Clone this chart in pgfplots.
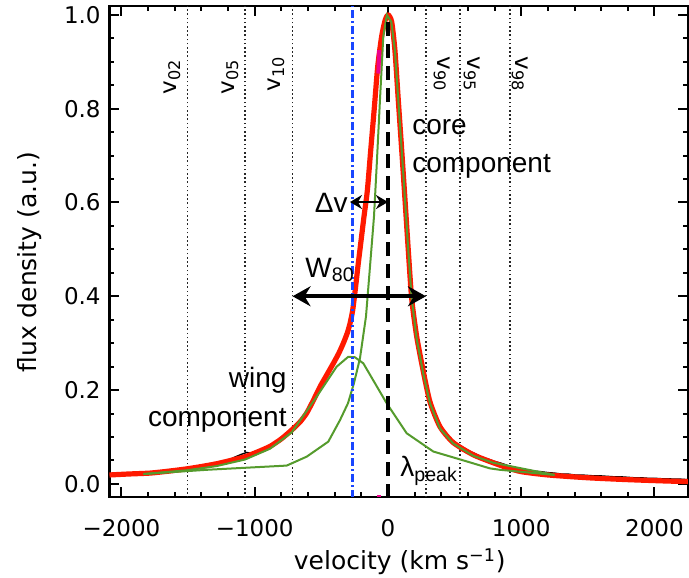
\documentclass[border=0pt]{standalone}
\usepackage{pgfplots}
\pgfplotsset{compat=1.18}
\usepackage{fontspec}
\setmainfont{DejaVu Sans}
\newfontfamily\annfont{Liberation Sans}
\usetikzlibrary{arrows.meta}
\definecolor{fitred}{RGB}{255,25,0}
\definecolor{compgreen}{RGB}{85,155,45}
\definecolor{vblue}{RGB}{25,70,255}
\begin{document}
\begin{tikzpicture}
\begin{axis}[
  scale only axis, width=289.25pt, height=245.5pt,
  xmin=-2090, xmax=2250, ymin=-0.0277, ymax=1.019,
  axis line style={line width=1.3pt},
  tick align=inside,
  major tick length=5pt, minor tick length=2.5pt,
  tick style={black, line width=1pt},
  xtick={-2000,-1000,0,1000,2000},
  xticklabels={−2000,−1000,0,1000,2000},
  minor x tick num=4,
  ytick={0,0.2,0.4,0.6,0.8,1.0},
  minor y tick num=3,
  /pgf/number format/assume math mode=true,
  yticklabel style={/pgf/number format/fixed, /pgf/number format/fixed zerofill, /pgf/number format/precision=1, font=\fontsize{11.5}{13}\selectfont, xshift=-0.9pt},
  xticklabel style={font=\fontsize{11.5}{13}\selectfont, yshift=-7.7pt},
  xlabel={velocity (km s\textsuperscript{−1})},
  ylabel={flux density (a.u.)},
  xlabel style={font=\fontsize{12.5}{14}\selectfont, at={(axis description cs:0.502,-0.132)}, anchor=center},
  ylabel style={font=\fontsize{12.5}{14}\selectfont, at={(axis description cs:-0.1374,0.478)}, anchor=center},
]
% percentile lines
\addplot[black!85, line width=0.8pt, dash pattern=on 0.8pt off 1.3pt] coordinates {(-1503,-0.03) (-1503,1.02)};
\addplot[black!85, line width=0.8pt, dash pattern=on 0.8pt off 1.3pt] coordinates {(-1075,-0.03) (-1075,1.02)};
\addplot[black!85, line width=0.8pt, dash pattern=on 0.8pt off 1.3pt] coordinates {(-716,-0.03) (-716,1.02)};
\addplot[black!85, line width=0.8pt, dash pattern=on 0.8pt off 1.3pt] coordinates {(285,-0.03) (285,1.02)};
\addplot[black!85, line width=0.8pt, dash pattern=on 0.8pt off 1.3pt] coordinates {(540,-0.03) (540,1.02)};
\addplot[black!85, line width=0.8pt, dash pattern=on 0.8pt off 1.3pt] coordinates {(915,-0.03) (915,1.02)};
% data
\addplot[black, line width=0.7pt] coordinates {
(-2090,0.020)(-2050,0.021)(-2000,0.020)(-1950,0.022)(-1900,0.021)(-1850,0.023)(-1800,0.023)(-1750,0.025)(-1700,0.024)(-1650,0.027)(-1600,0.028)(-1550,0.030)(-1500,0.032)(-1450,0.034)(-1400,0.036)(-1350,0.040)(-1300,0.042)(-1250,0.046)(-1200,0.050)(-1150,0.057)(-1100,0.063)(-1060,0.067)(-1020,0.065)(-980,0.071)(-940,0.074)(-900,0.079)(-850,0.086)(-800,0.097)(-750,0.108)(-700,0.120)(-650,0.135)(-600,0.156)(-550,0.183)(-500,0.212)(-450,0.238)(-400,0.263)(-350,0.292)(-305,0.322)
(-285,0.342)(-265,0.370)(-245,0.415)(-225,0.465)(-210,0.500)(-180,0.570)(-155,0.625)(-130,0.710)(-103,0.800)(-77,0.890)(-47,0.955)(-20,0.990)(2,1.0)(28,0.985)(52,0.925)(77,0.820)(103,0.712)(128,0.605)(152,0.500)(178,0.395)(215,0.315)(265,0.240)(315,0.175)(390,0.122)
(450,0.101)(500,0.089)(550,0.080)(600,0.071)(650,0.065)(700,0.058)(750,0.053)(800,0.048)(850,0.044)(900,0.039)(950,0.035)(1000,0.031)(1050,0.030)(1100,0.027)(1150,0.026)(1200,0.024)(1250,0.023)(1300,0.021)(1350,0.021)(1400,0.019)(1450,0.019)(1500,0.018)(1550,0.017)(1600,0.017)(1650,0.016)(1700,0.015)(1750,0.015)(1800,0.014)(1850,0.013)(1900,0.013)(1950,0.012)(2000,0.012)(2050,0.011)(2100,0.011)(2150,0.010)(2200,0.010)(2250,0.009)};
% total fit
\addplot[fitred, line width=2.6pt, line join=round, smooth, tension=0.4] coordinates {
(-2090,0.019)(-1950,0.021)(-1785,0.023)(-1650,0.027)(-1510,0.032)(-1400,0.037)(-1285,0.043)(-1180,0.050)(-1072,0.058)(-980,0.068)(-885,0.080)(-800,0.096)(-722,0.115)(-660,0.132)(-610,0.151)(-560,0.178)(-510,0.207)(-460,0.232)(-410,0.257)(-370,0.278)(-335,0.300)(-305,0.322)(-285,0.342)(-265,0.370)(-245,0.415)(-225,0.465)(-210,0.500)(-180,0.570)(-155,0.625)(-130,0.710)(-103,0.800)(-77,0.890)(-47,0.955)(-20,0.990)(2,1.0)(28,0.985)(52,0.925)(77,0.820)(103,0.712)(128,0.605)(152,0.500)(178,0.395)(215,0.315)(265,0.240)(315,0.175)(390,0.122)(490,0.088)(640,0.062)(790,0.045)(900,0.034)(1000,0.026)(1200,0.019)(1500,0.013)(1800,0.009)(2100,0.006)(2250,0.005)};
% core component
\addplot[compgreen, line width=1pt] coordinates {
(-1835,0.021)(-1360,0.030)(-760,0.039)(-610,0.058)(-448,0.090)(-360,0.136)(-300,0.172)(-255,0.215)(-210,0.268)(-165,0.357)(-135,0.463)(-105,0.570)(-85,0.677)(-60,0.819)(-35,0.955)(-8,1.0)(25,0.985)(52,0.925)(77,0.820)(103,0.712)(128,0.605)(152,0.500)(178,0.395)(215,0.310)(265,0.235)(315,0.172)(390,0.118)(490,0.086)(640,0.060)(790,0.045)(1250,0.019)};
% wing component
\addplot[compgreen, line width=1pt] coordinates {
(-1835,0.021)(-1510,0.029)(-1285,0.038)(-1072,0.052)(-885,0.075)(-722,0.110)(-535,0.186)(-385,0.250)(-298,0.271)(-248,0.270)(-185,0.257)(-10,0.172)(140,0.108)(340,0.069)(590,0.048)(765,0.033)(840,0.030)(1250,0.019)};
% magenta markers
\addplot[magenta, line width=2pt] coordinates {(-72,0.875)(-66,0.925)};
\addplot[magenta, line width=2pt] coordinates {(-82,-0.0277)(-55,-0.0277)};
% blue line
\addplot[vblue, line width=1.1pt, dash pattern=on 4pt off 1.5pt on 1pt off 1.5pt] coordinates {(-266,-0.03) (-266,1.02)};
% peak line
\addplot[black, line width=1.6pt, dash pattern=on 7pt off 4pt] coordinates {(0,-0.03) (0,1.0)};
% arrows
\addplot[black, line width=2.2pt, {Stealth[length=9pt,width=10pt,inset=3pt]}-{Stealth[length=9pt,width=10pt,inset=3pt]}] coordinates {(-716,0.4) (285,0.4)};
\addplot[black, line width=1.2pt, {Stealth[length=6pt,width=7pt,inset=2pt]}-{Stealth[length=6pt,width=7pt,inset=2pt]}] coordinates {(-285,0.601) (0,0.601)};
% percentile labels
\node[font=\fontsize{11.5}{13}\selectfont, rotate=90, anchor=center, inner sep=0] at (axis cs:-1620,0.868) {v\textsubscript{02}};
\node[font=\fontsize{11.5}{13}\selectfont, rotate=90, anchor=center, inner sep=0] at (axis cs:-1185,0.868) {v\textsubscript{05}};
\node[font=\fontsize{11.5}{13}\selectfont, rotate=90, anchor=center, inner sep=0] at (axis cs:-840,0.874) {v\textsubscript{10}};
\node[font=\fontsize{11.5}{13}\selectfont, rotate=-90, anchor=center, inner sep=0] at (axis cs:405,0.874) {v\textsubscript{90}};
\node[font=\fontsize{11.5}{13}\selectfont, rotate=-90, anchor=center, inner sep=0] at (axis cs:630,0.874) {v\textsubscript{95}};
\node[font=\fontsize{11.5}{13}\selectfont, rotate=-90, anchor=center, inner sep=0] at (axis cs:990,0.874) {v\textsubscript{98}};
% annotations
\node[font=\annfont\fontsize{14}{16}\selectfont, anchor=base west, inner sep=0] at (axis cs:180,0.744) {core};
\node[font=\annfont\fontsize{14}{16}\selectfont, anchor=base west, inner sep=0] at (axis cs:180,0.665) {component};
\node[font=\annfont\fontsize{14}{16}\selectfont, anchor=base east, inner sep=0] at (axis cs:-758,0.205) {wing};
\node[font=\annfont\fontsize{14}{16}\selectfont, anchor=base east, inner sep=0] at (axis cs:-758,0.1215) {component};
\node[font=\annfont\fontsize{14}{16}\selectfont, anchor=base east, inner sep=0] at (axis cs:-300,0.578) {Δv};
\node[font=\annfont\fontsize{14}{16}\selectfont, anchor=base west, inner sep=0] at (axis cs:-622,0.441) {W\textsubscript{80}};
\node[font=\annfont\fontsize{14}{16}\selectfont, anchor=base west, inner sep=0] at (axis cs:90,0.015) {λ\textsubscript{peak}};
\end{axis}
\pgfresetboundingbox
\path[use as bounding box] (current axis.south west) ++(-54.75pt,-40.5pt) rectangle ([shift={(0.6pt,3pt)}]current axis.north east);
\end{tikzpicture}
\end{document}
